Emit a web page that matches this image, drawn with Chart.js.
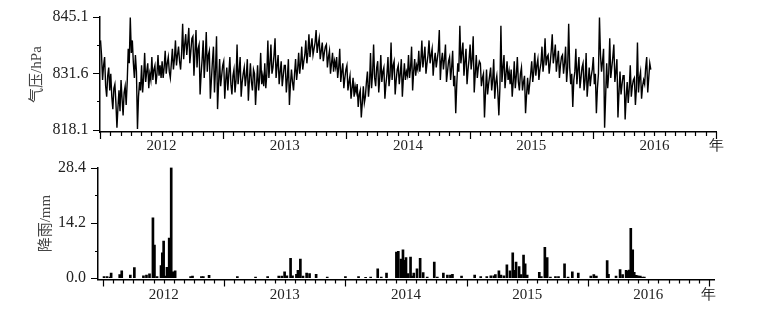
<!DOCTYPE html>
<html>
<head>
<meta charset="utf-8">
<script src="https://cdn.jsdelivr.net/npm/chart.js@4.4.1/dist/chart.umd.min.js"></script>
<style>
  body { margin: 0; background: #fff; }
  #wrap { position: relative; width: 775px; height: 317px; }
  canvas { position: absolute; left: 0; }
  #pressure-chart { top: 0; }
  #rain-chart { top: 150px; }
</style>
</head>
<body>
<div id="wrap">
  <canvas id="pressure-chart" width="775" height="160"></canvas>
  <canvas id="rain-chart" width="775" height="167"></canvas>
</div>
<script>
// x axis: months counted from Jan 2012, 5 years shown
const yearLabels = ["2012", "2013", "2014", "2015", "2016"];
const unitLabel = "年";

// pressure (hPa), 10 readings per month starting Jan 2012
const pressure = [
  // 2012
  839.5, 836.0, 830.0, 833.5, 835.5, 828.5, 826.0, 831.0, 833.0, 827.5,
  831.5, 826.0, 823.0, 828.0, 829.0, 824.5, 818.5, 823.5, 827.5, 822.5,
  830.0, 825.5, 821.5, 827.0, 828.5, 824.0, 829.5, 837.5, 834.0, 845.0,
  836.5, 839.5, 834.0, 830.5, 836.0, 832.0, 818.2, 826.0, 829.5, 827.5,
  833.5, 827.0, 830.5, 836.5, 829.5, 832.0, 834.0, 828.0, 831.5, 830.0,
  835.5, 830.0, 832.5, 833.5, 829.0, 831.5, 836.0, 831.0, 833.5, 830.5,
  834.5, 830.5, 833.0, 837.0, 831.5, 834.0, 835.5, 832.0, 830.5, 834.0,
  837.5, 832.5, 835.0, 839.5, 833.5, 836.0, 838.0, 834.5, 832.5, 836.5,
  843.5, 835.0, 838.5, 841.0, 836.0, 839.0, 842.5, 834.0, 837.0, 840.0,
  840.5, 831.0, 836.5, 842.0, 833.0, 837.5, 838.5, 826.5, 831.5, 835.0,
  839.5, 830.5, 835.0, 841.5, 832.0, 836.0, 837.0, 825.5, 830.0, 834.5,
  838.0, 827.0, 832.5, 840.5, 823.0, 829.0, 835.0, 828.5, 831.0, 833.5,
  // 2013
  834.5, 825.5, 830.0, 833.0, 827.5, 831.5, 835.5, 829.0, 826.5, 831.0,
  832.5, 827.0, 830.0, 838.5, 829.0, 832.0, 835.5, 826.0, 829.5, 831.5,
  833.0, 828.5, 831.0, 835.0, 825.0, 830.0, 834.0, 829.5, 827.5, 832.5,
  831.5, 824.0, 829.0, 833.5, 827.5, 830.5, 836.5, 829.0, 831.0, 828.5,
  834.0, 828.0, 831.5, 839.5, 830.5, 834.0, 838.5, 831.5, 833.0, 836.0,
  840.0, 830.5, 833.5, 836.0, 829.0, 832.0, 834.5, 828.5, 831.0, 833.5,
  833.5, 827.0, 830.5, 835.0, 824.0, 829.0, 832.5, 829.5, 827.5, 831.5,
  835.0, 830.0, 832.5, 836.5, 831.5, 834.0, 838.0, 832.5, 834.5, 836.0,
  839.5, 834.0, 836.5, 841.0, 835.5, 838.0, 840.0, 836.0, 837.5, 839.0,
  842.0, 836.5, 838.5, 840.0, 835.0, 837.0, 839.0, 834.5, 836.5, 838.0,
  838.5, 833.0, 835.5, 837.0, 831.5, 834.0, 836.5, 832.0, 834.5, 833.0,
  835.5, 830.5, 833.0, 837.5, 829.5, 832.0, 834.0, 828.0, 830.5, 832.5,
  // 2014
  833.5, 827.5, 829.5, 831.0, 825.5, 828.0, 830.5, 826.0, 828.5, 827.0,
  829.0, 823.5, 826.5, 827.5, 821.0, 824.5, 828.5, 824.5, 826.0, 829.5,
  832.0, 826.0, 829.0, 836.5, 828.0, 831.5, 838.5, 830.5, 828.5, 833.0,
  834.5, 827.0, 830.5, 836.0, 829.5, 832.0, 833.0, 825.5, 829.0, 831.5,
  835.5, 828.5, 831.0, 839.0, 830.0, 833.5, 834.5, 826.5, 830.0, 832.5,
  833.5, 829.0, 831.5, 835.0, 826.0, 830.5, 834.0, 830.0, 832.0, 831.0,
  836.0, 830.5, 833.0, 838.0, 827.5, 832.0, 835.0, 831.0, 833.5, 832.5,
  837.0, 832.0, 834.5, 839.5, 833.0, 835.5, 838.0, 831.5, 834.0, 836.0,
  839.5, 834.0, 836.0, 837.5, 831.0, 834.5, 836.5, 833.0, 835.0, 837.0,
  842.0, 830.0, 834.5, 836.5, 832.5, 835.0, 838.5, 829.5, 832.0, 834.5,
  835.5, 830.0, 833.0, 837.0, 828.5, 831.0, 822.0, 829.0, 834.0, 832.0,
  843.0, 834.0, 836.5, 839.0, 831.0, 834.5, 837.5, 829.0, 832.5, 835.0,
  // 2015
  838.5, 832.5, 835.0, 840.5, 827.0, 831.5, 836.0, 830.5, 833.0, 834.5,
  834.0, 828.5, 830.5, 831.5, 821.0, 827.0, 832.5, 826.5, 829.0, 831.0,
  833.0, 827.5, 830.0, 835.0, 825.5, 829.5, 831.0, 827.0, 821.5, 828.0,
  843.0, 829.5, 833.0, 836.0, 828.0, 831.5, 834.5, 830.0, 832.0, 829.0,
  832.5, 826.0, 829.5, 834.5, 828.0, 831.0, 835.5, 829.5, 827.5, 831.5,
  833.0, 827.5, 829.5, 831.0, 822.0, 826.5, 830.5, 826.5, 829.0, 831.5,
  834.5, 829.5, 832.0, 836.5, 831.0, 833.5, 835.0, 830.0, 832.5, 834.0,
  838.0, 832.0, 834.5, 840.0, 833.5, 835.5, 836.0, 831.5, 834.0, 837.0,
  841.0, 834.0, 836.0, 838.5, 832.0, 834.5, 837.0, 830.5, 833.5, 835.5,
  836.0, 831.5, 834.0, 838.0, 829.5, 833.0, 843.5, 833.0, 829.0, 831.5,
  823.5, 830.0, 832.0, 837.5, 829.0, 832.5, 835.5, 828.0, 830.5, 833.0,
  834.0, 827.5, 830.0, 836.5, 826.0, 829.5, 833.0, 828.5, 831.0, 832.5,
  // 2016
  835.5, 829.0, 831.5, 822.0, 828.0, 831.5, 845.0, 836.0, 832.0, 834.5,
  837.5, 818.5, 826.0, 834.0, 828.0, 831.5, 840.0, 830.5, 833.0, 835.5,
  838.5, 829.5, 832.0, 835.0, 821.0, 827.0, 832.0, 826.5, 829.0, 831.0,
  831.0, 820.5, 826.0, 829.5, 824.5, 828.0, 833.5, 826.0, 828.5, 830.0,
  830.5, 824.0, 828.0, 839.0, 827.0, 830.5, 832.0, 825.5, 828.5, 830.0,
  829.0, 833.0, 835.5, 827.0, 830.5, 834.0, 832.5,
];
const perMonth = 10;

// rain events: time in months since Jan 2012, amount in mm
const rainT = [
  0.1, 0.4, 0.7, 0.8, 1.65, 1.85, 2.7, 3.1, 4.0, 4.3, 4.6, 4.94, 5.09, 5.35,
  5.74, 5.87, 6.0, 6.13, 6.33, 6.46, 6.55, 6.65, 6.75, 6.91, 7.14, 8.67, 8.86,
  9.74, 9.93, 10.5, 13.3, 15.1, 16.3, 17.4, 17.7, 17.98, 18.2, 18.57, 18.76,
  19.15, 19.3, 19.54, 19.8, 20.16, 20.45, 21.1, 22.2, 24.0, 25.3, 26.0, 26.5,
  27.2, 27.55, 28.07, 29.05, 29.24, 29.5, 29.7, 29.86, 30.0, 30.2, 30.45, 30.6,
  30.77, 31.09, 31.4, 31.7, 32.1, 32.8, 33.1, 33.7, 34.1, 34.4, 34.6, 35.5,
  36.8, 37.4, 38.0, 38.4, 38.7, 38.85, 39.2, 39.4, 39.7, 39.99, 40.3, 40.57,
  40.75, 40.9, 41.2, 41.4, 41.64, 41.8, 42.0, 43.2, 43.4, 43.75, 43.98, 44.3,
  44.8, 45.1, 45.7, 46.05, 46.47, 47.06, 48.3, 48.6, 48.85, 49.92, 50.05, 50.8,
  51.2, 51.45, 51.8, 52.0, 52.1, 52.26, 52.45, 52.6, 52.8, 52.97, 53.2, 53.4, 53.6,
];
const rainMm = [
  0.4, 0.4, 0.3, 1.3, 0.9, 1.9, 0.8, 2.7, 0.6, 0.8, 1.1, 15.5, 8.5, 0.4,
  3.2, 6.5, 9.5, 0.5, 2.8, 1.2, 10.3, 10.1, 28.4, 1.6, 1.9, 0.4, 0.5,
  0.4, 0.4, 0.7, 0.4, 0.3, 0.4, 0.5, 0.5, 1.6, 0.6, 5.1, 0.6,
  1.0, 2.0, 4.9, 0.5, 1.3, 1.2, 1.0, 0.3, 0.4, 0.4, 0.2, 0.3,
  2.4, 0.3, 1.3, 6.7, 6.9, 4.9, 7.3, 4.6, 5.3, 1.2, 5.4, 0.5,
  1.3, 2.4, 5.1, 1.4, 0.3, 4.1, 0.3, 1.3, 0.8, 0.8, 1.0, 0.5,
  0.8, 0.4, 0.4, 0.6, 0.6, 0.9, 1.9, 0.8, 0.6, 3.4, 1.9, 6.5,
  2.0, 4.1, 3.0, 0.9, 5.9, 3.7, 0.8, 1.5, 0.4, 7.9, 5.3, 0.3,
  0.4, 0.4, 3.7, 0.3, 1.6, 1.3, 0.5, 0.9, 0.5, 4.5, 1.0, 0.5,
  2.2, 0.9, 2.0, 1.8, 2.1, 12.8, 7.3, 1.5, 0.7, 0.6, 0.5, 0.3, 0.3,
];

const pressureTicks = [818.1, 824.85, 831.6, 838.35, 845.1];
const rainTicks = [0.0, 7.1, 14.2, 21.3, 28.4];

const serif = "'Liberation Serif', 'Times New Roman', serif";
const titleFont = "'Liberation Serif', 'Noto Sans CJK SC', serif";
Chart.defaults.font.family = serif;
Chart.defaults.color = "#222";

// draws short/long tick marks for both axes
const axisTicks = {
  id: "axisTicks",
  afterDraw(chart) {
    const ctx = chart.ctx;
    const xs = chart.scales.x;
    const ys = chart.scales.y;
    const area = chart.chartArea;
    ctx.save();
    ctx.strokeStyle = "#000";
    ctx.lineWidth = 1.2;
    ctx.beginPath();
    xs.ticks.forEach((t) => {
      const px = Math.round(xs.getPixelForValue(t.value)) + 0.5;
      const len = t.value % 12 === 0 ? 7 : 4;
      ctx.moveTo(px, area.bottom);
      ctx.lineTo(px, area.bottom + len);
    });
    ys.ticks.forEach((t, i) => {
      const py = Math.round(ys.getPixelForValue(t.value)) + 0.5;
      const len = i % 2 === 0 ? 7 : 3;
      ctx.moveTo(area.left, py);
      ctx.lineTo(area.left - len, py);
    });
    ctx.stroke();
    ctx.restore();
  },
};

function monthTicks(scale) {
  const t = [];
  for (let m = 0; m <= 60; m++) t.push({ value: m });
  scale.ticks = t;
}

function monthLabel(v) {
  if (v === 60) return unitLabel;
  if ((v - 6) % 12 === 0) return yearLabels[(v - 6) / 12];
  return "";
}

function xAxis(height, pad) {
  return {
    type: "linear",
    min: 0,
    max: 60,
    afterBuildTicks: monthTicks,
    afterFit: (s) => { s.height = height; },
    grid: { display: true, drawOnChartArea: false, drawTicks: true, tickLength: 4, tickColor: "rgba(0,0,0,0)" },
    border: { display: true, color: "#000", width: 1.5 },
    ticks: {
      autoSkip: false,
      maxRotation: 0,
      padding: pad,
      font: { size: 15 },
      color: "#222",
      callback: monthLabel,
    },
  };
}

function yAxis(width, min, max, tickList, title, titlePad, labelPad) {
  return {
    min: min,
    max: max,
    afterBuildTicks: (s) => { s.ticks = tickList.map((v) => ({ value: v })); },
    afterFit: (s) => { s.width = width; },
    grid: { display: true, drawOnChartArea: false, drawTicks: true, tickLength: 4, tickColor: "rgba(0,0,0,0)" },
    border: { display: true, color: "#000", width: 1.5 },
    ticks: {
      padding: labelPad,
      font: { size: 16 },
      color: "#222",
      callback: (v, i) => (i % 2 === 0 ? v.toFixed(1) : ""),
    },
    title: {
      display: true,
      text: title,
      color: "#444",
      font: { size: 15, family: titleFont },
      padding: { top: titlePad, bottom: 0 },
    },
  };
}

const pressurePoints = pressure.map((v, i) => ({ x: (i + 0.5) / perMonth, y: v }));
const rainPoints = rainT.map((t, i) => ({ x: t, y: rainMm[i] }));

new Chart(document.getElementById("pressure-chart"), {
  type: "line",
  data: {
    datasets: [{
      data: pressurePoints,
      borderColor: "#000",
      borderWidth: 1.4,
      pointRadius: 0,
      tension: 0,
    }],
  },
  options: {
    responsive: false,
    animation: false,
    layout: { padding: { left: 0, right: 59, top: 12, bottom: 0 } },
    plugins: { legend: { display: false }, tooltip: { enabled: false } },
    scales: {
      x: xAxis(28, 1),
      y: yAxis(100, 817.5, 845.1, pressureTicks, "气压/hPa", 28.5, 7.5),
    },
  },
  plugins: [axisTicks],
});

new Chart(document.getElementById("rain-chart"), {
  type: "bar",
  data: {
    datasets: [{
      data: rainPoints,
      backgroundColor: "#000",
      barThickness: 2,
    }],
  },
  options: {
    responsive: false,
    animation: false,
    layout: { padding: { left: 0, right: 61, top: 12, bottom: 0 } },
    plugins: { legend: { display: false }, tooltip: { enabled: false } },
    scales: {
      x: xAxis(37.5, 3),
      y: yAxis(98, -0.35, 28.4, rainTicks, "降雨/mm", 37.5, 8),
    },
  },
  plugins: [axisTicks],
});
</script>
</body>
</html>
